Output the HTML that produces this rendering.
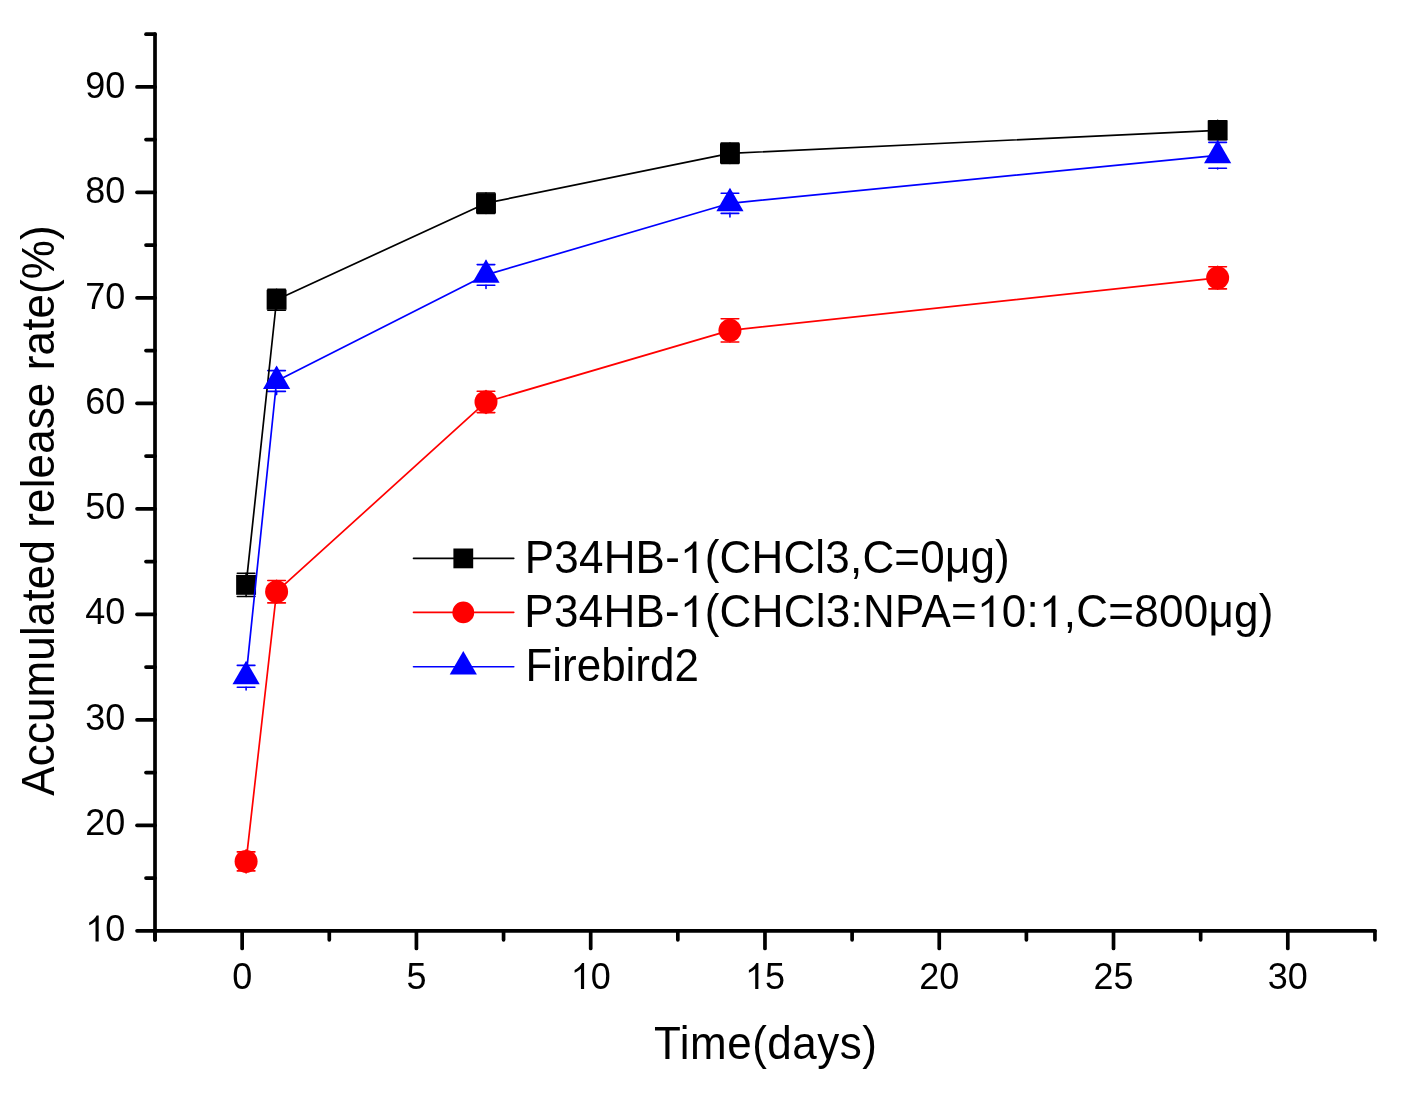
<!DOCTYPE html><html><head><meta charset="utf-8"><style>html,body{margin:0;padding:0;background:#fff;}svg{display:block;will-change:transform;}text{font-family:"Liberation Sans",sans-serif;fill:#000;}.h1{fill-opacity:0;}</style></head><body>
<svg width="1424" height="1116" viewBox="0 0 1424 1116">
<rect width="1424" height="1116" fill="#fff"/>
<g stroke="#000" stroke-width="3.7" stroke-linecap="round" fill="none">
<line x1="155.01" y1="34.13" x2="155.01" y2="939.80"/>
<line x1="155.01" y1="930.80" x2="1374.94" y2="930.80"/>
<line x1="155.01" y1="930.80" x2="137.01" y2="930.80"/>
<line x1="155.01" y1="878.05" x2="146.01" y2="878.05"/>
<line x1="155.01" y1="825.31" x2="137.01" y2="825.31"/>
<line x1="155.01" y1="772.56" x2="146.01" y2="772.56"/>
<line x1="155.01" y1="719.82" x2="137.01" y2="719.82"/>
<line x1="155.01" y1="667.08" x2="146.01" y2="667.08"/>
<line x1="155.01" y1="614.33" x2="137.01" y2="614.33"/>
<line x1="155.01" y1="561.59" x2="146.01" y2="561.59"/>
<line x1="155.01" y1="508.84" x2="137.01" y2="508.84"/>
<line x1="155.01" y1="456.09" x2="146.01" y2="456.09"/>
<line x1="155.01" y1="403.35" x2="137.01" y2="403.35"/>
<line x1="155.01" y1="350.61" x2="146.01" y2="350.61"/>
<line x1="155.01" y1="297.86" x2="137.01" y2="297.86"/>
<line x1="155.01" y1="245.12" x2="146.01" y2="245.12"/>
<line x1="155.01" y1="192.37" x2="137.01" y2="192.37"/>
<line x1="155.01" y1="139.62" x2="146.01" y2="139.62"/>
<line x1="155.01" y1="86.88" x2="137.01" y2="86.88"/>
<line x1="155.01" y1="34.13" x2="146.01" y2="34.13"/>
<line x1="155.01" y1="930.80" x2="155.01" y2="939.80"/>
<line x1="242.15" y1="930.80" x2="242.15" y2="948.40"/>
<line x1="329.29" y1="930.80" x2="329.29" y2="939.80"/>
<line x1="416.42" y1="930.80" x2="416.42" y2="948.40"/>
<line x1="503.56" y1="930.80" x2="503.56" y2="939.80"/>
<line x1="590.70" y1="930.80" x2="590.70" y2="948.40"/>
<line x1="677.84" y1="930.80" x2="677.84" y2="939.80"/>
<line x1="764.97" y1="930.80" x2="764.97" y2="948.40"/>
<line x1="852.11" y1="930.80" x2="852.11" y2="939.80"/>
<line x1="939.25" y1="930.80" x2="939.25" y2="948.40"/>
<line x1="1026.39" y1="930.80" x2="1026.39" y2="939.80"/>
<line x1="1113.52" y1="930.80" x2="1113.52" y2="948.40"/>
<line x1="1200.66" y1="930.80" x2="1200.66" y2="939.80"/>
<line x1="1287.80" y1="930.80" x2="1287.80" y2="948.40"/>
<line x1="1374.94" y1="930.80" x2="1374.94" y2="939.80"/>
</g>
<g font-size="36" text-anchor="end">
<text x="125.3" y="941.40" transform="matrix(1,0,0,1.0405,0,-38.127)"><tspan class="h1">1</tspan>0</text>
<text x="125.3" y="835.40" transform="matrix(1,0,0,1.0405,0,-33.834)">20</text>
<text x="125.3" y="730.40" transform="matrix(1,0,0,1.0405,0,-29.581)">30</text>
<text x="125.3" y="624.40" transform="matrix(1,0,0,1.0405,0,-25.288)">40</text>
<text x="125.3" y="519.40" transform="matrix(1,0,0,1.0405,0,-21.036)">50</text>
<text x="125.3" y="414.40" transform="matrix(1,0,0,1.0405,0,-16.783)">60</text>
<text x="125.3" y="309.40" transform="matrix(1,0,0,1.0405,0,-12.531)">70</text>
<text x="125.3" y="203.40" transform="matrix(1,0,0,1.0405,0,-8.238)">80</text>
<text x="125.3" y="98.40" transform="matrix(1,0,0,1.0405,0,-3.985)">90</text>
</g>
<g font-size="36" text-anchor="middle">
<text x="242.15" y="988.9" transform="matrix(1,0,0,1.0405,0,-40.050)">0</text>
<text x="416.42" y="988.9" transform="matrix(1,0,0,1.0405,0,-40.050)">5</text>
<text x="590.70" y="988.9" transform="matrix(1,0,0,1.0405,0,-40.050)"><tspan class="h1">1</tspan>0</text>
<text x="764.97" y="988.9" transform="matrix(1,0,0,1.0405,0,-40.050)"><tspan class="h1">1</tspan>5</text>
<text x="939.25" y="988.9" transform="matrix(1,0,0,1.0405,0,-40.050)">20</text>
<text x="1113.52" y="988.9" transform="matrix(1,0,0,1.0405,0,-40.050)">25</text>
<text x="1287.80" y="988.9" transform="matrix(1,0,0,1.0405,0,-40.050)">30</text>
</g>
<text x="765.7" y="1058.7" transform="matrix(1,0,0,1.0405,0,-42.877)" font-size="44" text-anchor="middle" style="letter-spacing:0.5px">Time(days)</text>
<text transform="translate(54,510.4) rotate(-90) scale(1,1.0405)" font-size="44" text-anchor="middle" style="letter-spacing:0.13px">Accumulated release rate(%)</text>
<g stroke="#000" stroke-width="1.6" stroke-linecap="round" fill="none">
<line x1="246.10" y1="574.90" x2="246.10" y2="573.20"/>
<line x1="237.30" y1="573.20" x2="254.90" y2="573.20"/>
<line x1="246.10" y1="594.80" x2="246.10" y2="596.50"/>
<line x1="237.30" y1="596.50" x2="254.90" y2="596.50"/>
<line x1="276.60" y1="289.80" x2="276.60" y2="289.30"/>
<line x1="267.80" y1="289.30" x2="285.40" y2="289.30"/>
<line x1="276.60" y1="309.70" x2="276.60" y2="310.20"/>
<line x1="267.80" y1="310.20" x2="285.40" y2="310.20"/>
<line x1="486.00" y1="193.25" x2="486.00" y2="193.00"/>
<line x1="477.20" y1="193.00" x2="494.80" y2="193.00"/>
<line x1="486.00" y1="213.15" x2="486.00" y2="213.40"/>
<line x1="477.20" y1="213.40" x2="494.80" y2="213.40"/>
<line x1="729.95" y1="143.40" x2="729.95" y2="143.15"/>
<line x1="721.15" y1="143.15" x2="738.75" y2="143.15"/>
<line x1="729.95" y1="163.30" x2="729.95" y2="163.55"/>
<line x1="721.15" y1="163.55" x2="738.75" y2="163.55"/>
<line x1="1217.65" y1="120.35" x2="1217.65" y2="120.80"/>
<line x1="1208.85" y1="120.80" x2="1226.45" y2="120.80"/>
<line x1="1217.65" y1="140.25" x2="1217.65" y2="139.80"/>
<line x1="1208.85" y1="139.80" x2="1226.45" y2="139.80"/>
</g>
<g stroke="#f00" stroke-width="1.6" stroke-linecap="round" fill="none">
<line x1="246.10" y1="849.90" x2="246.10" y2="851.90"/>
<line x1="237.30" y1="851.90" x2="254.90" y2="851.90"/>
<line x1="246.10" y1="872.90" x2="246.10" y2="870.90"/>
<line x1="237.30" y1="870.90" x2="254.90" y2="870.90"/>
<line x1="276.60" y1="580.20" x2="276.60" y2="580.50"/>
<line x1="267.80" y1="580.50" x2="285.40" y2="580.50"/>
<line x1="276.60" y1="603.20" x2="276.60" y2="602.90"/>
<line x1="267.80" y1="602.90" x2="285.40" y2="602.90"/>
<line x1="486.00" y1="390.45" x2="486.00" y2="391.30"/>
<line x1="477.20" y1="391.30" x2="494.80" y2="391.30"/>
<line x1="486.00" y1="413.45" x2="486.00" y2="412.60"/>
<line x1="477.20" y1="412.60" x2="494.80" y2="412.60"/>
<line x1="729.95" y1="318.85" x2="729.95" y2="318.70"/>
<line x1="721.15" y1="318.70" x2="738.75" y2="318.70"/>
<line x1="729.95" y1="341.85" x2="729.95" y2="342.00"/>
<line x1="721.15" y1="342.00" x2="738.75" y2="342.00"/>
<line x1="1217.65" y1="266.30" x2="1217.65" y2="266.70"/>
<line x1="1208.85" y1="266.70" x2="1226.45" y2="266.70"/>
<line x1="1217.65" y1="289.30" x2="1217.65" y2="288.90"/>
<line x1="1208.85" y1="288.90" x2="1226.45" y2="288.90"/>
</g>
<g stroke="#00f" stroke-width="1.6" stroke-linecap="round" fill="none">
<line x1="246.10" y1="662.70" x2="246.10" y2="665.40"/>
<line x1="237.30" y1="665.40" x2="254.90" y2="665.40"/>
<line x1="246.10" y1="689.90" x2="246.10" y2="687.20"/>
<line x1="237.30" y1="687.20" x2="254.90" y2="687.20"/>
<line x1="276.60" y1="367.40" x2="276.60" y2="370.60"/>
<line x1="267.80" y1="370.60" x2="285.40" y2="370.60"/>
<line x1="276.60" y1="394.60" x2="276.60" y2="391.40"/>
<line x1="267.80" y1="391.40" x2="285.40" y2="391.40"/>
<line x1="486.00" y1="261.30" x2="486.00" y2="264.60"/>
<line x1="477.20" y1="264.60" x2="494.80" y2="264.60"/>
<line x1="486.00" y1="288.50" x2="486.00" y2="285.20"/>
<line x1="477.20" y1="285.20" x2="494.80" y2="285.20"/>
<line x1="729.95" y1="189.70" x2="729.95" y2="193.20"/>
<line x1="721.15" y1="193.20" x2="738.75" y2="193.20"/>
<line x1="729.95" y1="216.90" x2="729.95" y2="213.40"/>
<line x1="721.15" y1="213.40" x2="738.75" y2="213.40"/>
<line x1="1217.65" y1="141.70" x2="1217.65" y2="142.40"/>
<line x1="1208.85" y1="142.40" x2="1226.45" y2="142.40"/>
<line x1="1217.65" y1="168.90" x2="1217.65" y2="168.20"/>
<line x1="1208.85" y1="168.20" x2="1226.45" y2="168.20"/>
</g>
<polyline points="246.10,584.85 276.60,299.75 486.00,203.20 729.95,153.35 1217.65,130.30" fill="none" stroke="#000" stroke-width="1.7" stroke-linejoin="round"/>
<rect x="236.15" y="574.90" width="19.9" height="19.9" fill="#000"/>
<rect x="266.65" y="289.80" width="19.9" height="19.9" fill="#000"/>
<rect x="476.05" y="193.25" width="19.9" height="19.9" fill="#000"/>
<rect x="720.00" y="143.40" width="19.9" height="19.9" fill="#000"/>
<rect x="1207.70" y="120.35" width="19.9" height="19.9" fill="#000"/>
<polyline points="246.10,861.40 276.60,591.70 486.00,401.95 729.95,330.35 1217.65,277.80" fill="none" stroke="#f00" stroke-width="1.7" stroke-linejoin="round"/>
<circle cx="246.10" cy="861.40" r="11.5" fill="#f00"/>
<circle cx="276.60" cy="591.70" r="11.5" fill="#f00"/>
<circle cx="486.00" cy="401.95" r="11.5" fill="#f00"/>
<circle cx="729.95" cy="330.35" r="11.5" fill="#f00"/>
<circle cx="1217.65" cy="277.80" r="11.5" fill="#f00"/>
<polyline points="246.10,676.30 276.60,381.00 486.00,274.90 729.95,203.30 1217.65,155.30" fill="none" stroke="#00f" stroke-width="1.7" stroke-linejoin="round"/>
<polygon points="246.10,660.70 259.70,684.20 232.50,684.20" fill="#00f"/>
<polygon points="276.60,365.40 290.20,388.90 263.00,388.90" fill="#00f"/>
<polygon points="486.00,259.30 499.60,282.80 472.40,282.80" fill="#00f"/>
<polygon points="729.95,187.70 743.55,211.20 716.35,211.20" fill="#00f"/>
<polygon points="1217.65,139.70 1231.25,163.20 1204.05,163.20" fill="#00f"/>
<line x1="413.5" y1="558.4" x2="513.8" y2="558.4" stroke="#000" stroke-width="1.6" stroke-linecap="round"/>
<rect x="453.40" y="548.50" width="19.8" height="19.8" fill="#000"/>
<text x="524.80" y="573.00" transform="matrix(1,0,0,1.0405,0,-23.206)" font-size="44" style="letter-spacing:0.2px">P34HB-<tspan class="h1">1</tspan>(CHCl3,C=0μg)</text>
<line x1="413.5" y1="612.4" x2="513.8" y2="612.4" stroke="#f00" stroke-width="1.6" stroke-linecap="round"/>
<circle cx="463.30" cy="612.40" r="10.9" fill="#f00"/>
<text x="524.30" y="627.00" transform="matrix(1,0,0,1.0405,0,-25.393)" font-size="44" style="letter-spacing:0.28px">P34HB-<tspan class="h1">1</tspan>(CHCl3:NPA=<tspan class="h1">1</tspan>0:<tspan class="h1">1</tspan>,C=800μg)</text>
<line x1="413.5" y1="666.7" x2="513.8" y2="666.7" stroke="#00f" stroke-width="1.6" stroke-linecap="round"/>
<polygon points="463.30,651.10 476.90,674.60 449.70,674.60" fill="#00f"/>
<text x="525.40" y="681.30" transform="matrix(1,0,0,1.0405,0,-27.593)" font-size="44" style="letter-spacing:0px">Firebird2</text>
<path d="M763,0 L583,0 L583,1147 Q518,1085 412,1023 Q306,961 223,917 L223,1080 Q373,1155 486,1256 Q599,1367 646,1472 L763,1472 Z" transform="translate(85.27,941.40) scale(0.017578,-0.017578)" fill="#000"/>
<path d="M763,0 L583,0 L583,1147 Q518,1085 412,1023 Q306,961 223,917 L223,1080 Q373,1155 486,1256 Q599,1367 646,1472 L763,1472 Z" transform="translate(570.69,988.90) scale(0.017578,-0.017578)" fill="#000"/>
<path d="M763,0 L583,0 L583,1147 Q518,1085 412,1023 Q306,961 223,917 L223,1080 Q373,1155 486,1256 Q599,1367 646,1472 L763,1472 Z" transform="translate(744.96,988.90) scale(0.017578,-0.017578)" fill="#000"/>
<path d="M763,0 L583,0 L583,1147 Q518,1085 412,1023 Q306,961 223,917 L223,1080 Q373,1155 486,1256 Q599,1367 646,1472 L763,1472 Z" transform="translate(679.99,573.00) scale(0.021484,-0.021484)" fill="#000"/>
<path d="M763,0 L583,0 L583,1147 Q518,1085 412,1023 Q306,961 223,917 L223,1080 Q373,1155 486,1256 Q599,1367 646,1472 L763,1472 Z" transform="translate(679.96,627.00) scale(0.021484,-0.021484)" fill="#000"/>
<path d="M763,0 L583,0 L583,1147 Q518,1085 412,1023 Q306,961 223,917 L223,1080 Q373,1155 486,1256 Q599,1367 646,1472 L763,1472 Z" transform="translate(977.00,627.00) scale(0.021484,-0.021484)" fill="#000"/>
<path d="M763,0 L583,0 L583,1147 Q518,1085 412,1023 Q306,961 223,917 L223,1080 Q373,1155 486,1256 Q599,1367 646,1472 L763,1472 Z" transform="translate(1038.98,627.00) scale(0.021484,-0.021484)" fill="#000"/>
</svg></body></html>
